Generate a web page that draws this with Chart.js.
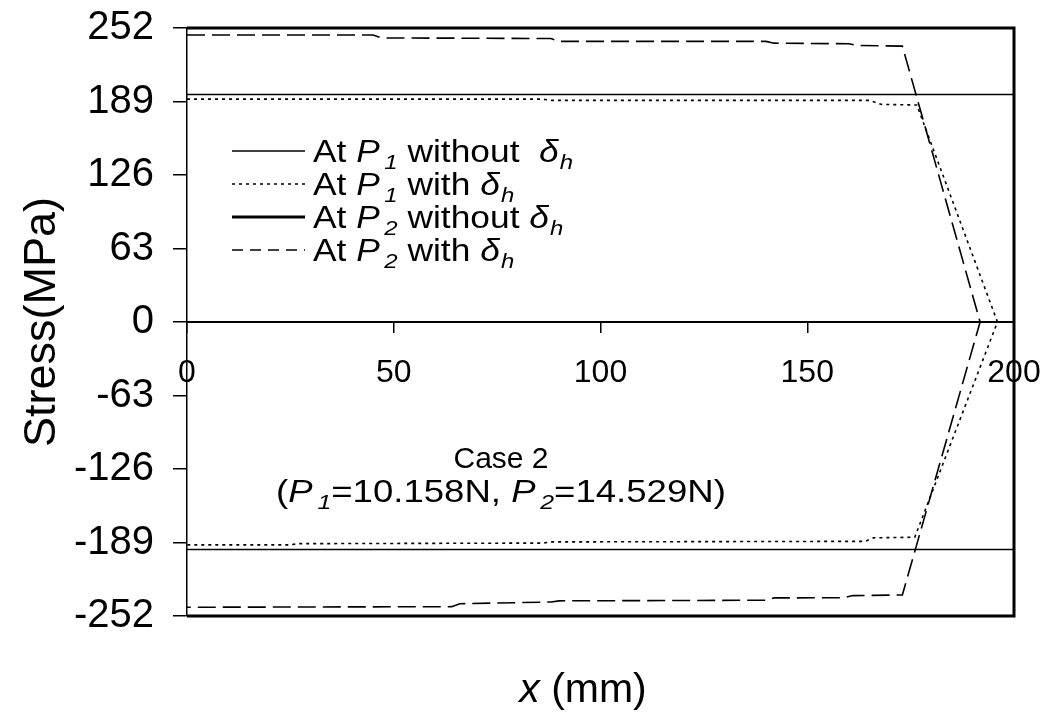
<!DOCTYPE html>
<html><head><meta charset="utf-8">
<script src="https://cdn.jsdelivr.net/npm/chart.js@4/dist/chart.umd.min.js"></script>
<style>html,body{margin:0;padding:0;background:#fff;}#wrap{width:1053px;height:727px;position:relative;}</style>
</head><body><div id="wrap"><canvas id="c" width="1053" height="727"></canvas></div>
<script>
// ---- data ----
const xTickValues = [0, 50, 100, 150, 200];
const yTickValues = [252, 189, 126, 63, 0, -63, -126, -189, -252];

// At P1 without δh (thin solid)
const p1WithoutX = [0, 200, 200, 0];
const p1WithoutY = [195, 195, -195, -195];
// At P1 with δh (dotted)
const p1WithX = [0, 86, 88, 165, 168, 176.5, 196, 176, 166, 164, 88, 86, 27, 25, 0];
const p1WithY = [191, 191, 190, 190, 186.5, 186, 0, -184.5, -185, -188, -188.5, -189.5, -190, -191, -191];
// At P2 without δh (thick solid)
const p2WithoutX = [0, 200, 200, 0];
const p2WithoutY = [252, 252, -252, -252];
// At P2 with δh (dashed)
const p2WithX = [0, 45, 47, 88, 90, 140, 142, 160, 162, 173, 191.8, 173, 161, 159, 142, 140, 90, 88, 66, 64, 0];
const p2WithY = [246, 246, 243.5, 243, 240.5, 240.5, 239, 238.5, 237, 236.5, 0, -234, -234.5, -236.3, -236.5, -238.5, -239, -240, -241.5, -244, -244.5];

const seriesNames = ['At P1 without δh', 'At P1 with δh', 'At P2 without δh', 'At P2 with δh'];
const legendSubs = ['1', '1', '2', '2'];
const legendWords = [' without  ', ' with ', ' without ', ' with '];
const noteTitle = 'Case 2';
const noteP1 = '10.158N';
const noteP2 = '14.529N';

const pts = (xs, ys) => xs.map((x, i) => ({x: x, y: ys[i]}));
const FONT = '"Liberation Sans", Arial, sans-serif';

function drawRich(ctx, segs, x, baseline, size, hScale, align) {
  const subSize = Math.round(size * 0.68);
  const fontOf = s => (s.italic ? 'italic ' : '') + (s.sub ? subSize : size) + 'px ' + FONT;
  let w = 0;
  const widths = segs.map(s => { ctx.font = fontOf(s); const m = ctx.measureText(s.t).width + (s.gap || 0); w += m; return m; });
  let start = x;
  if (align === 'center') start = x - w * hScale / 2;
  ctx.save();
  ctx.translate(start, baseline);
  ctx.scale(hScale, 1);
  ctx.fillStyle = '#000';
  ctx.textBaseline = 'alphabetic';
  ctx.textAlign = 'left';
  let cx = 0;
  segs.forEach((s, i) => {
    ctx.font = fontOf(s);
    ctx.fillText(s.t, cx + (s.gap || 0), s.sub ? size * 0.22 : 0);
    cx += widths[i];
  });
  ctx.restore();
}

const textPlugin = {
  id: 'textPlugin',
  afterDraw(chart) {
    const ctx = chart.ctx;
    const ds = chart.data.datasets;
    // legend
    const rowsY = [151, 184, 217, 250];
    ds.forEach((d, i) => {
      const y = rowsY[i];
      ctx.save();
      ctx.strokeStyle = '#000';
      ctx.lineWidth = d.borderWidth;
      ctx.setLineDash(i === 3 ? [11, 7] : (d.borderDash || []));
      ctx.beginPath();
      ctx.moveTo(232, y);
      ctx.lineTo(305, y);
      ctx.stroke();
      ctx.restore();
      drawRich(ctx, [
        {t: 'At '},
        {t: 'P', italic: true},
        {t: legendSubs[i], italic: true, sub: true, gap: 4},
        {t: legendWords[i]},
        {t: 'δ', italic: true},
        {t: 'h', italic: true, sub: true, gap: 1}
      ], 313, y + 11, 31, 1.14, 'left');
    });
    // note
    drawRich(ctx, [{t: noteTitle}], 501, 468, 30, 1.0, 'center');
    drawRich(ctx, [
      {t: '('},
      {t: 'P', italic: true},
      {t: '1', italic: true, sub: true, gap: 4},
      {t: '=' + noteP1 + ', '},
      {t: 'P', italic: true},
      {t: '2', italic: true, sub: true, gap: 4},
      {t: '=' + noteP2 + ')'}
    ], 501, 502, 31, 1.18, 'center');
    // x axis title
    drawRich(ctx, [{t: 'x', italic: true}, {t: ' (mm)'}], 583, 702, 41, 1.0, 'center');
  }
};

new Chart(document.getElementById('c'), {
  type: 'line',
  data: {
    datasets: [
      {label: seriesNames[0], data: pts(p1WithoutX, p1WithoutY), borderColor: '#000', borderWidth: 1.5, pointRadius: 0, tension: 0, fill: false, clip: false},
      {label: seriesNames[1], data: pts(p1WithX, p1WithY), borderColor: '#000', borderWidth: 1.6, borderDash: [3, 4], pointRadius: 0, tension: 0, fill: false, clip: false},
      {label: seriesNames[2], data: pts(p2WithoutX, p2WithoutY), borderColor: '#000', borderWidth: 3, pointRadius: 0, tension: 0, fill: false, clip: false},
      {label: seriesNames[3], data: pts(p2WithX, p2WithY), borderColor: '#000', borderWidth: 1.6, borderDash: [18, 7], pointRadius: 0, tension: 0, fill: false, clip: false}
    ]
  },
  options: {
    responsive: false,
    animation: false,
    layout: {padding: {left: 0, top: 28, right: 39, bottom: 111}},
    plugins: {legend: {display: false}, tooltip: {enabled: false}, title: {display: false}},
    scales: {
      x: {
        type: 'linear',
        position: {y: 0},
        min: 0, max: 200,
        afterBuildTicks: s => { s.ticks = xTickValues.map(v => ({value: v})); },
        afterFit: s => { s.paddingLeft = 0; s.paddingRight = 0; s.paddingTop = 0; s.paddingBottom = 0; },
        grid: {drawOnChartArea: false, drawTicks: true, tickLength: 10, color: '#000', lineWidth: 1.5},
        border: {display: true, color: '#000', width: 2},
        ticks: {color: '#000', font: {family: FONT, size: 32}, padding: 22, maxRotation: 0}
      },
      y: {
        type: 'linear',
        position: 'left',
        min: -252, max: 252,
        afterBuildTicks: s => { s.ticks = yTickValues.map(v => ({value: v})); },
        afterFit: s => { s.width = 187; s.paddingTop = 0; s.paddingBottom = 0; s.paddingLeft = 0; s.paddingRight = 0; },
        grid: {drawOnChartArea: false, drawTicks: true, tickLength: 14, color: '#000', lineWidth: 1.5},
        border: {display: true, color: '#000', width: 1.5},
        ticks: {color: '#000', font: {family: FONT, size: 40}, padding: 19},
        title: {display: true, text: 'Stress(MPa)', color: '#000', font: {family: FONT, size: 45}, padding: {top: 16, bottom: 0}}
      }
    }
  },
  plugins: [textPlugin]
});
</script></body></html>
